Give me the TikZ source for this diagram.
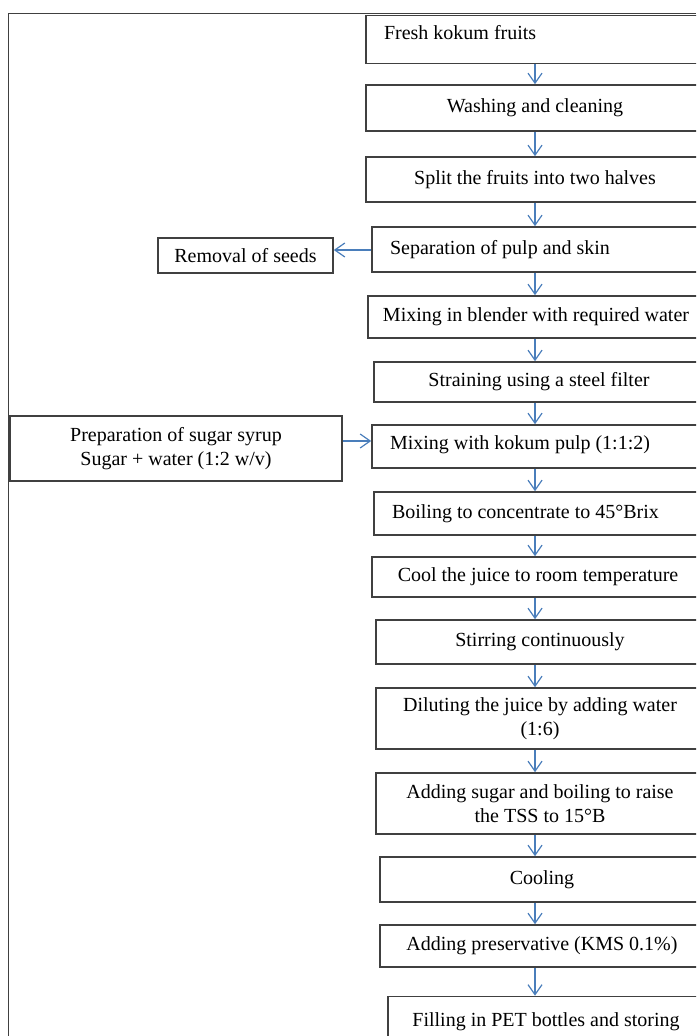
\documentclass[tikz,border=0pt]{standalone}
\usepackage{fontspec}
\setmainfont{Liberation Serif}
\usetikzlibrary{arrows.meta}

\definecolor{arrowblue}{RGB}{74,126,187}
\definecolor{boxgray}{RGB}{64,64,64}

\newcommand*{\spinex}{535}
\newcommand*{\pagew}{696}
\newcommand*{\pageh}{1036}

\begin{document}
\begin{tikzpicture}
[
	x=0.5pt, y=-0.5pt,
	stepbox/.style={rectangle,draw=boxgray,line width=0.8pt,align=center,inner ysep=2pt},
	leftbox/.style={stepbox,align=flush left,inner xsep=9pt},
	flow/.style={arrowblue,line width=0.6pt,-{Straight Barb[length=5pt,width=7pt]}},
	frame/.style={boxgray,line width=0.5pt}
]

	% page
	\useasboundingbox (0,0) rectangle (\pagew,\pageh);
	\clip (0,0) rectangle (\pagew,\pageh);

	% frame
	\draw[frame] (8,\pageh) -- (8,14) -- (\pagew,14);

	% main column
	\node[leftbox,text width=151pt,text depth=7pt,minimum height=24pt] (fresh) at (535,39.5) {Fresh kokum fruits};
	\node[stepbox,minimum width=169pt,minimum height=23pt] (wash) at (535,108) {Washing and cleaning};
	\node[stepbox,minimum width=169pt,minimum height=22.5pt] (split) at (535,179.5) {Split the fruits into two halves};
	\node[leftbox,text width=148pt,minimum height=22.5pt] (sep) at (538,249.5) {Separation of pulp and skin};
	\node[stepbox,minimum width=168pt,minimum height=21pt] (blend) at (536,317) {Mixing in blender with required water};
	\node[stepbox,minimum width=165pt,minimum height=20pt] (strain) at (539,382) {Straining using a steel filter};
	\node[leftbox,text width=148pt,text depth=4pt,minimum height=21.5pt] (mixpulp) at (538,446.5) {Mixing with kokum pulp (1:1:2)};
	\node[leftbox,text width=147pt,minimum height=21.5pt] (boil) at (539,513.5) {Boiling to concentrate to 45°Brix};
	\node[stepbox,minimum width=166pt,minimum height=20pt] (cool) at (538,577) {Cool the juice to room temperature};
	\node[stepbox,minimum width=164pt,minimum height=22pt] (stir) at (540,642) {Stirring continuously};
	\node[stepbox,minimum width=164pt,minimum height=30.5pt] (dilute) at (540,718.5) {Diluting the juice by adding water\\(1:6)};
	\node[stepbox,minimum width=164pt,minimum height=30.5pt] (addsugar) at (540,803.5) {Adding sugar and boiling to raise\\the TSS to 15°B};
	\node[stepbox,minimum width=162pt,minimum height=22.5pt] (cooling) at (542,879.5) {Cooling};
	\node[stepbox,minimum width=162pt,minimum height=21pt] (kms) at (542,946) {Adding preservative (KMS 0.1\%)};
	\node[stepbox,minimum width=158pt,minimum height=25.5pt] (fill) at (546,1022) {Filling in PET bottles and storing};

	% side boxes
	\node[stepbox,minimum width=87.5pt,minimum height=17.5pt] (seeds) at (245.5,255.5) {Removal of seeds};
	\node[stepbox,minimum width=166pt,minimum height=32.5pt] (syrup) at (176,448.5) {Preparation of sugar syrup\\Sugar + water (1:2 w/v)};

	% arrows
	\coordinate (spine) at (\spinex,0);
	\foreach \a/\b in {fresh/wash,wash/split,split/sep,sep/blend,blend/strain,strain/mixpulp,mixpulp/boil,boil/cool,cool/stir,stir/dilute,dilute/addsugar,addsugar/cooling,cooling/kms,kms/fill} {
		\draw[flow] (\a.south -| spine) -- (\b.north -| spine);
	}
	\draw[flow] (sep.west |- 0,250) -- (seeds.east |- 0,250);
	\draw[flow] (syrup.east |- 0,441) -- (mixpulp.west |- 0,441);

\end{tikzpicture}
\end{document}
